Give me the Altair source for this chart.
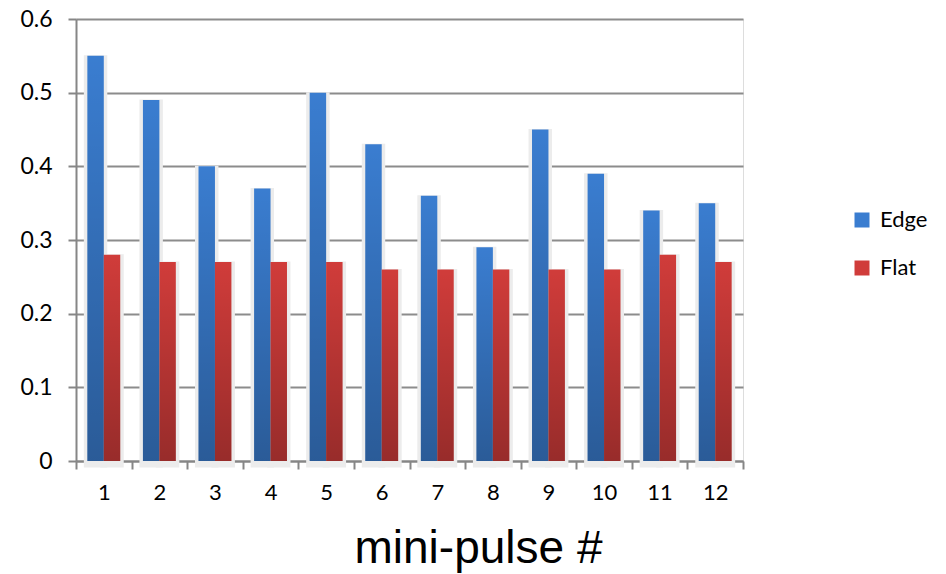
import altair as alt
import pandas as pd

pulses = [str(i) for i in range(1, 13)]
edge = [0.55, 0.49, 0.40, 0.37, 0.50, 0.43, 0.36, 0.29, 0.45, 0.39, 0.34, 0.35]
flat = [0.28, 0.27, 0.27, 0.27, 0.27, 0.26, 0.26, 0.26, 0.26, 0.26, 0.28, 0.27]
series = ["Edge", "Flat"]
colors = ["#3A7DD0", "#D03C3A"]

rows = []
for p, e, f in zip(pulses, edge, flat):
    rows.append({"pulse": p, "series": "Edge", "value": e})
    rows.append({"pulse": p, "series": "Flat", "value": f})
df = pd.DataFrame(rows)

FONT = "Lato"

x = alt.X("pulse:N", sort=pulses,
          scale=alt.Scale(paddingInner=0, paddingOuter=0),
          axis=alt.Axis(title="mini-pulse #", labelAngle=0, labelFont=FONT,
                        labelFontSize=22, labelColor="#000", labelPadding=13,
                        tickBand="extent", tickSize=8, tickColor="#868686",
                        tickWidth=2, domainColor="#868686", domainWidth=2,
                        grid=False,
                        titleFont="Liberation Sans", titleFontSize=46,
                        titleFontWeight="normal", titleColor="#000",
                        titleX=402, titleY=101, titleBaseline="alphabetic",
                        titleAlign="center", titleAnchor="start"))
xo = alt.XOffset("series:N", sort=series,
                 scale=alt.Scale(paddingInner=0, paddingOuter=0.69))
y = alt.Y("value:Q", scale=alt.Scale(domain=[0, 0.6], nice=False),
          axis=alt.Axis(title=None, values=[0, 0.1, 0.2, 0.3, 0.4, 0.5, 0.6],
                        format="~g", labelFont=FONT, labelFontSize=23,
                        labelColor="#000", labelPadding=16, tickSize=8,
                        tickColor="#868686", tickWidth=2,
                        domainColor="#868686", domainWidth=2,
                        gridColor="#8c8c8c", gridWidth=2))

base = alt.Chart(df)

shadow = base.mark_bar(fill="#ececec", stroke="#ececec", strokeWidth=7,
                       yOffset=3).encode(x=x, xOffset=xo, y=y)

bars = base.mark_bar().encode(
    x=x, xOffset=xo, y=y,
    color=alt.Color("series:N", sort=series,
                    scale=alt.Scale(domain=series, range=colors),
                    legend=alt.Legend(title=None, orient="none",
                                      legendX=775, legendY=190,
                                      symbolType="square", symbolSize=225,
                                      symbolStrokeWidth=0,
                                      labelFont=FONT, labelFontSize=22,
                                      labelColor="#000", rowPadding=26,
                                      labelOffset=7)))

shade = base.mark_bar(color=alt.Gradient(
    gradient="linear", x1=0, y1=0, x2=0, y2=1,
    stops=[alt.GradientStop(offset=0, color="rgba(0,0,0,0)"),
           alt.GradientStop(offset=1, color="rgba(0,0,0,0.27)")])).encode(
    x=x, xOffset=xo, y=y)

chart = alt.layer(shadow, bars, shade).properties(
    width=667, height=442,
    autosize=alt.AutoSizeParams(type="none"),
    padding={"left": 76, "top": 19, "right": 203, "bottom": 113},
).configure_view(stroke=None).configure(background="white")

chart.save("out.html", embed_options={"renderer": "svg", "actions": False})
